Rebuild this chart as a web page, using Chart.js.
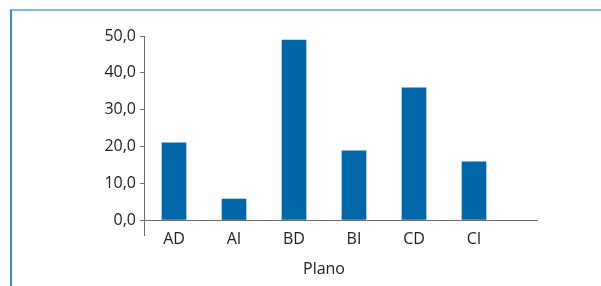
<!DOCTYPE html>
<html lang="pt">
<head>
<meta charset="UTF-8">
<title>Plano</title>
<script src="https://cdn.jsdelivr.net/npm/chart.js"></script>
<style>
    body {
        margin: 0;
        background: #fff;
    }
    .wrap {
        position: relative;
        width: 601px;
        height: 286px;
    }
    .moldura {
        position: absolute;
        left: 10px;
        top: 9px;
        right: 0;
        bottom: 0;
        border-top: 2px solid #82b7df;
        border-left: 2px solid #3a85c4;
    }
    #grafico {
        position: absolute;
        left: 0;
        top: 0;
    }
</style>
</head>
<body>

<div class="wrap">
    <div class="moldura"></div>
    <canvas id="grafico" width="601" height="286"></canvas>
</div>

<script>
// dados
const categorias = ['AD', 'AI', 'BD', 'BI', 'CD', 'CI'];
const valores = [21.0, 5.7, 48.9, 18.8, 35.9, 15.8];
const tituloX = 'Plano';
const yMax = 50;
const yPasso = 10;

const fonte = '"Open Sans", "Noto Sans", sans-serif';
const corEixo = '#6e6e6e';
const corTexto = '#222';

// título do eixo x centrado nas categorias
const tituloPlugin = {
    id: 'tituloPlano',
    afterDraw(chart) {
        const x = chart.scales.x;
        const ctx = chart.ctx;
        const meio = (x.getPixelForValue(-0.5) + x.getPixelForValue(categorias.length - 0.5)) / 2;
        ctx.save();
        ctx.font = '16px ' + fonte;
        ctx.fillStyle = corTexto;
        ctx.textAlign = 'center';
        ctx.textBaseline = 'alphabetic';
        ctx.fillText(tituloX, meio, chart.chartArea.bottom + 54);
        ctx.restore();
    }
};

let ctx = document.getElementById('grafico').getContext('2d');
let chart = new Chart(ctx, {
    type: 'bar',
    data: {
        datasets: [{
            data: categorias.map((c, i) => ({ x: i, y: valores[i] })),
            backgroundColor: '#0068a9',
            barThickness: 24
        }]
    },
    options: {
        responsive: false,
        animation: false,
        layout: {
            padding: { left: 0, top: 36, right: 64, bottom: 36 }
        },
        plugins: {
            legend: { display: false },
            tooltip: { enabled: false }
        },
        scales: {
            x: {
                type: 'linear',
                offset: false,
                min: -0.5,
                max: 6.05,
                afterBuildTicks: (scale) => {
                    scale.ticks = [-0.5].concat(categorias.map((c, i) => i)).map(v => ({ value: v }));
                },
                afterFit: (scale) => { scale.height = 30; },
                ticks: {
                    autoSkip: false,
                    maxRotation: 0,
                    padding: -6,
                    color: corTexto,
                    font: { family: fonte, size: 16 },
                    callback: (v) => v < 0 ? '' : categorias[v]
                },
                grid: {
                    offset: false,
                    drawOnChartArea: false,
                    tickLength: 16,
                    color: (c) => (c.tick && c.tick.value < 0) ? corEixo : 'transparent'
                },
                border: { color: corEixo, width: 1 }
            },
            y: {
                min: 0,
                max: yMax,
                afterFit: (scale) => { scale.width = 144; },
                ticks: {
                    stepSize: yPasso,
                    padding: 4,
                    color: corTexto,
                    font: { family: fonte, size: 16 },
                    callback: (v) => v.toFixed(1).replace('.', ',')
                },
                grid: {
                    drawOnChartArea: false,
                    tickLength: 4,
                    color: corEixo
                },
                border: { color: corEixo, width: 1 }
            }
        }
    },
    plugins: [tituloPlugin]
});
</script>

</body>
</html>
